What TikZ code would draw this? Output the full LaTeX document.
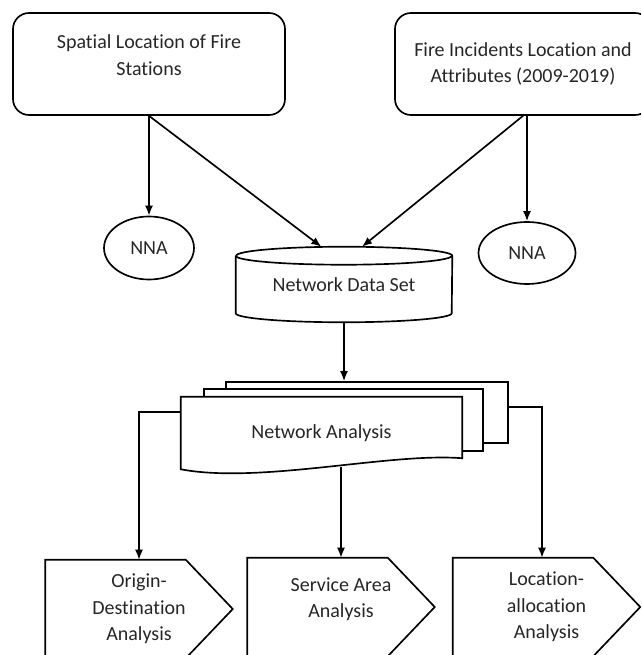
\documentclass[tikz,border=0pt]{standalone}
\usepackage{fontspec}
\setmainfont{Carlito}[Ligatures=NoCommon]
\usetikzlibrary{shapes.geometric,arrows.meta,backgrounds}

\begin{document}
\begin{tikzpicture}[x=0.75pt,y=-0.75pt,
	every node/.style={font=\fontsize{15pt}{20pt}\selectfont, align=center, text=black!85},
	line/.style={line width=1.25pt},
	arr/.style={line width=1.25pt,-{Latex[length=7.5pt,width=6pt]}},
	srcbox/.style={draw,line width=1.25pt,rounded corners=12pt,minimum height=76.5pt},
	nna/.style={draw,ellipse,line width=1.25pt,inner sep=0pt},
	sheet/.style={draw,line width=1.25pt,fill=white},
	stage/.style={minimum width=140.25pt,minimum height=73.5pt}]
	
	\useasboundingbox (0,0) rectangle (641,655);
	\clip (0,0) rectangle (641,655);
	
	%%% Sources
	\node[srcbox, minimum width=204pt] (spatial) at (149,64) {Spatial Location of Fire\\Stations\\[-7pt]};
	\node[srcbox, minimum width=192pt] (incidents) at (523,64) {Fire Incidents Location and\\Attributes (2009-2019)};
	
	\node[nna, minimum width=67.5pt, minimum height=47.25pt] (nnaL) at (149,248) {NNA};
	\node[nna, minimum width=72.75pt, minimum height=46.5pt] (nnaR) at (527,253) {NNA};
	
	%%% Data set (cylinder)
	\node[minimum width=162pt, minimum height=56.25pt] (dataset) at (344,284.5) {Network Data Set};
	\draw[line] ([yshift=-6.75pt]dataset.north west) -- ([yshift=6.75pt]dataset.south west)
		arc[start angle=180, end angle=360, x radius=81pt, y radius=6.75pt]
		-- ([yshift=-6.75pt]dataset.north east)
		arc[start angle=0, end angle=180, x radius=81pt, y radius=6.75pt];
	\draw[line] ([yshift=-6.75pt]dataset.north west)
		arc[start angle=180, end angle=360, x radius=81pt, y radius=6.75pt];
	
	%%% Network analysis (stacked documents)
	\node[minimum width=210.75pt, minimum height=54pt] (analysis) at (321.5,433) {Network Analysis};
	\begin{scope}[on background layer]
		\node[sheet, minimum width=211.5pt, minimum height=45.75pt] (sheetC) at (367,412.5) {};
		\node[sheet, minimum width=209.25pt, minimum height=46.5pt] (sheetB) at (343.5,420) {};
		\draw[sheet] (analysis.north west) -- (analysis.north east) -- ([yshift=8.25pt]analysis.south east)
			.. controls ([xshift=-54pt,yshift=12.75pt]analysis.south east) and ([xshift=59.25pt,yshift=-11.25pt]analysis.south west) .. (analysis.south west) -- cycle;
	\end{scope}
	
	%%% Analyses
	\node[stage] (odest) at (139,609) {Origin-\\Destination\\Analysis};
	\node[stage] (svcarea) at (341,607) {Service Area\\Analysis\\[-6pt]};
	\node[stage] (locall) at (546.5,607) {Location-\\allocation\\Analysis};
	\foreach \n in {odest,svcarea,locall}
		\draw[line] (\n.north west) -- ([xshift=-35.25pt]\n.north east) -- (\n.east)
			-- ([xshift=-35.25pt]\n.south east) -- (\n.south west) -- cycle;
	
	%%% Connectors
	\draw[arr] (spatial.south) -- (nnaL.north);
	\draw[arr] (spatial.south) -- ([xshift=-17pt]dataset.north);
	\draw[arr] (incidents.south) -- ([xshift=13.5pt]dataset.north);
	\draw[arr] (incidents.south -| nnaR.north) -- (nnaR.north);
	\draw[arr] (dataset.south) -- (dataset.south |- sheetC.north);
	\draw[arr] ([yshift=-11.25pt]analysis.north west) -| (odest.north);
	\draw[arr] ([yshift=2pt]svcarea.north |- analysis.south) -- (svcarea.north);
	\draw[arr] ([yshift=-19.5pt]sheetC.north east) -| ([xshift=-3.375pt]locall.north);
\end{tikzpicture}
\end{document}
